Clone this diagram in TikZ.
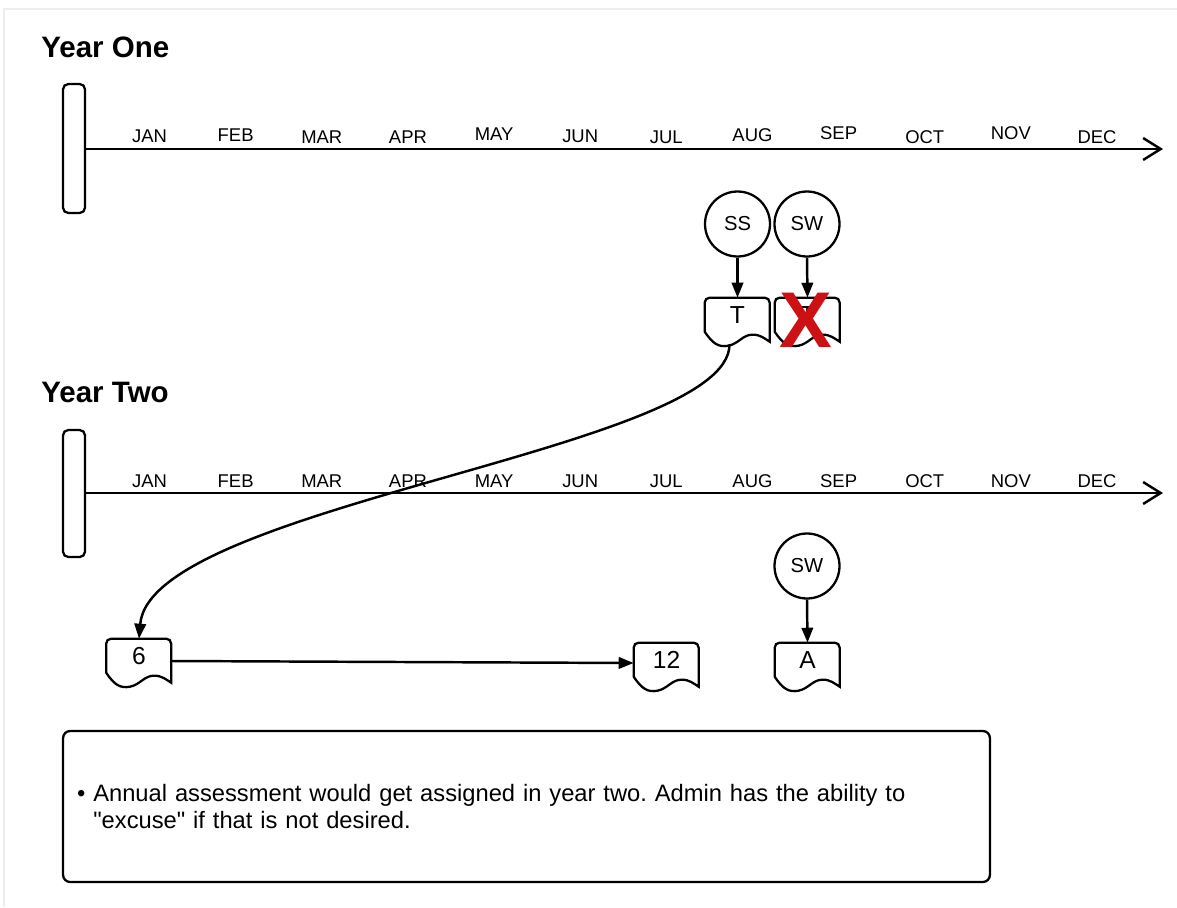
\documentclass[tikz,border=0pt]{standalone}
\usepackage{fontspec}
\setmainfont{Liberation Sans}[Ligatures=TeXOff]
\usetikzlibrary{arrows.meta,calc}
\definecolor{xred}{RGB}{204,16,20}
\newcommand\docpath[1]{%
  \draw[line width=1.3pt, fill=white, shift={(#1.north west)}]
    (0,34) -- (0,5) .. controls (0,2.2) and (2.2,0) .. (5,0) -- (60,0)
    .. controls (62.8,0) and (65,2.2) .. (65,5) -- (65,44)
    .. controls (60,41) and (56,37) .. (48,37)
    .. controls (38,37) and (34,46) .. (24,48)
    .. controls (14,50) and (8,46) .. (0,34) -- cycle;}
\begin{document}
\begin{tikzpicture}[x=0.02cm,y=-0.02cm,
  tl/.style={line width=1.4pt},
  barbox/.style={draw, line width=1.3pt, rounded corners=3pt, minimum width=0.44cm, inner sep=0},
  month/.style={font=\fontsize{10.5}{12}\selectfont, inner sep=0},
  yearlbl/.style={font=\fontsize{16.8}{19}\selectfont\bfseries, anchor=west, inner sep=0},
  circ/.style={draw, circle, line width=1.3pt, minimum size=1.3cm, inner sep=0, font=\fontsize{11.5}{13}\selectfont},
  docbox/.style={minimum width=1.3cm, minimum height=0.68cm, inner sep=0, font=\fontsize{14}{16}\selectfont},
  arr/.style={line width=1.4pt, -{Triangle[length=8.5pt,width=6.5pt]}},
  chev/.style={tl, -{Straight Barb[length=10pt,width=12.5pt,line width=1.4pt]}},
]
\useasboundingbox (0,0) rectangle (1177,907);
\draw[black!7, line width=1.5pt] (4,907) -- (4,9) -- (1177,9);

% Year One
\node[yearlbl] (y1) at (41,47.5) {Year One};
\node[barbox, minimum height=2.58cm] (bar1) at (74,148.5) {};
\coordinate (end1) at (1163,149);
\draw[chev] (bar1.east |- end1) -- (end1);
\foreach \m/\yy [count=\i from 0] in {JAN/136,FEB/135,MAR/137,APR/137,MAY/134,JUN/136,JUL/137,AUG/135,SEP/133,OCT/137,NOV/133,DEC/137}
  \node[month] (a\m) at (149.5+86.14*\i,\yy) {\m};

% Year Two
\node[yearlbl] (y2) at (41,392.5) {Year Two};
\node[barbox, minimum height=2.54cm] (bar2) at (74,493.5) {};
\coordinate (end2) at (1163,493);
\draw[chev] (bar2.east |- end2) -- (end2);
\foreach \m [count=\i from 0] in {JAN,FEB,MAR,APR,MAY,JUN,JUL,AUG,SEP,OCT,NOV,DEC}
  \node[month] (b\m) at (149.5+86.14*\i,481) {\m};

% Year One items
\node[circ] (ss) at (737.5,224) {SS};
\node[circ] (sw1) at (807,224) {SW};
\node[docbox] (t) at (737.5,315) {};
\docpath{t}
\node[docbox] at (t) {T};
\node[docbox] (xd) at (807.5,315) {};
\docpath{xd}
\node[docbox] at (xd) {T};
\draw[arr] (ss.south) -- (t.north);
\draw[arr] (sw1.south) -- (xd.north);
\node[font=\fontsize{45}{45}\bfseries\selectfont, text=xred, inner sep=0] (cross) at (806,320) {X};

% Year Two items
\node[circ] (sw2) at (807,566) {SW};
\node[docbox] (n6) at (139,656) {};
\docpath{n6}
\node[docbox] at (n6) {6};
\node[docbox] (n12) at (666.5,660) {};
\docpath{n12}
\node[docbox] at (n12) {12};
\node[docbox] (na) at (807.5,660) {};
\docpath{na}
\node[docbox] at (na) {A};
\draw[arr] (sw2.south) -- (na.north);
\draw[arr] ([shift={(0,5)}]n6.east) -- ([shift={(0,3)}]n12.west);

% carry-over curve
\draw[arr] ([shift={(-8,12)}]t.south) .. controls (730,450) and (150,505) .. (n6.north);

% note box
\node[draw, rounded corners=4pt, line width=1.3pt, minimum width=18.54cm, minimum height=3.02cm,
      inner xsep=0.28cm, inner ysep=0, text width=17.98cm, align=left,
      font=\fontsize{13.5}{15.9}\selectfont] (note) at (526.5,806.5)
  {\frenchspacing • Annual assessment would get assigned in year two. Admin has the ability to\\
   \frenchspacing\hphantom{•}\ "excuse" if that is not desired.};
\end{tikzpicture}
\end{document}
